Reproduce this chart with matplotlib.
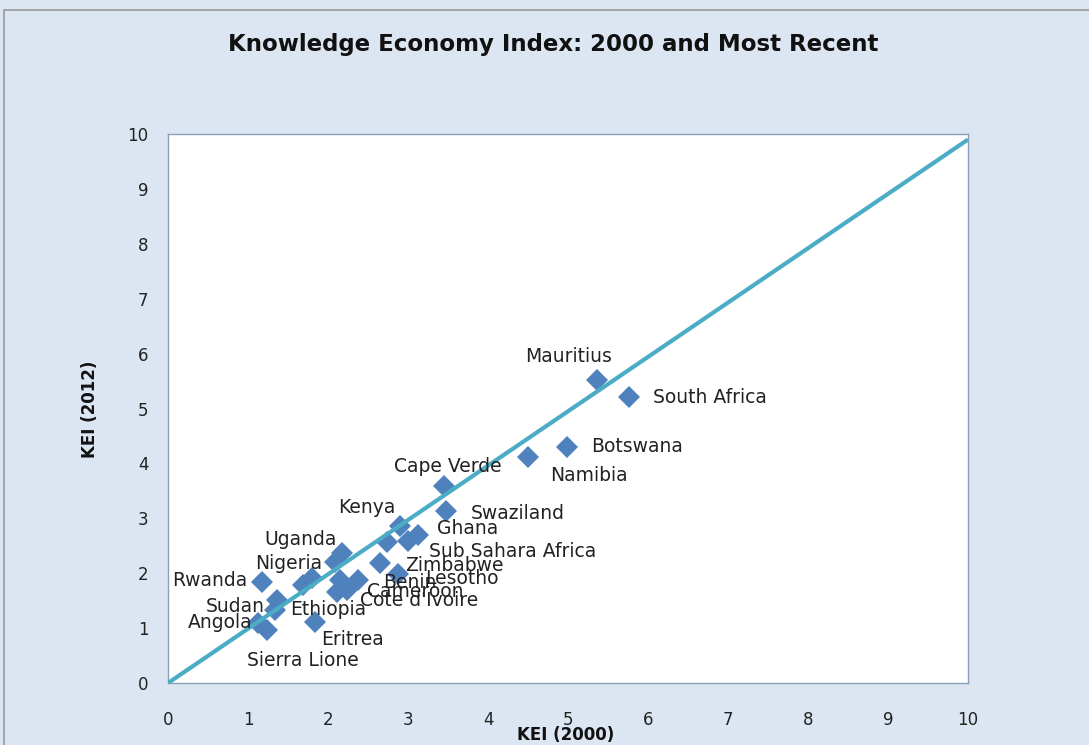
import numpy as np
import matplotlib.pyplot as plt

# KEI scores
countries = ['Mauritius', 'South Africa', 'Botswana', 'Namibia', 'Cape Verde',
             'Swaziland', 'Kenya', 'Ghana', 'Sub Sahara Africa', '', 'Zimbabwe',
             'Lesotho', 'Benin', 'Cameroon', "Cote d'Ivoire", 'Uganda', '',
             'Nigeria', '', '', 'Rwanda', 'Sudan', 'Ethiopia', 'Eritrea',
             'Angola', 'Sierra Lione']
kei_2000 = [5.36, 5.76, 4.99, 4.50, 3.45, 3.48, 2.90, 3.12, 3.00, 2.74, 2.65,
            2.88, 2.38, 2.24, 2.11, 2.17, 2.09, 1.80, 1.69, 2.15, 1.17, 1.36,
            1.34, 1.84, 1.13, 1.24]
kei_2012 = [5.52, 5.21, 4.30, 4.12, 3.59, 3.13, 2.86, 2.70, 2.58, 2.57, 2.19,
            1.98, 1.88, 1.70, 1.66, 2.37, 2.20, 1.91, 1.78, 1.88, 1.84, 1.51,
            1.33, 1.11, 1.10, 0.97]
diag_x = [0, 10]
diag_y = [0, 9.9]

# label placement (pixel offsets, alignment)
offsets = {
    'Mauritius': (-28, 23, 'center'), 'South Africa': (24, -1, 'left'),
    'Botswana': (24, 0, 'left'), 'Namibia': (61, -19, 'center'),
    'Cape Verde': (4, 19, 'center'), 'Swaziland': (24, -2, 'left'),
    'Kenya': (-33, 19, 'center'), 'Ghana': (19, 6, 'left'),
    'Sub Sahara Africa': (21, -10, 'left'), 'Zimbabwe': (25, -3, 'left'),
    'Lesotho': (27, -4, 'left'), 'Benin': (25, -3, 'left'),
    'Cameroon': (20, -2, 'left'), "Cote d'Ivoire": (23, -9, 'left'),
    'Uganda': (-41, 13, 'center'), 'Nigeria': (-23, 15, 'center'),
    'Rwanda': (-14, 2, 'right'), 'Sudan': (-12, -6, 'right'),
    'Ethiopia': (15, 1, 'left'), 'Eritrea': (37, -17, 'center'),
    'Angola': (-6, 0, 'right'), 'Sierra Lione': (36, -31, 'center'),
}

bg = '#dce6f2'
fig = plt.figure(figsize=(10.89, 7.45), dpi=100, facecolor=bg)
fig.patches.append(plt.Rectangle((0.004, -0.01), 1.0, 0.997, transform=fig.transFigure,
                                 fill=False, edgecolor='#9a9a9a', linewidth=1.2))
ax = fig.add_axes([0.1543, 0.0832, 0.7346, 0.7369])
ax.set_facecolor('white')

ax.plot(diag_x, diag_y, color='#4bacc6', linewidth=3, solid_capstyle='butt', zorder=3)
ax.plot(kei_2000, kei_2012, linestyle='none', marker='D', markersize=11.5,
        color='#4f81bd', markeredgewidth=0, zorder=2)

for name, x, y in zip(countries, kei_2000, kei_2012):
    if not name:
        continue
    dx, dy, ha = offsets[name]
    ax.annotate(name, (x, y), xytext=(dx, dy), textcoords='offset pixels',
                ha=ha, va='center', fontsize=13.5, color='#222222', zorder=4)

ax.set_xlim(0, 10)
ax.set_ylim(0, 10)
ax.set_xticks(range(0, 11))
ax.set_yticks(range(0, 11))
ax.tick_params(length=0, labelsize=12, colors='#222222', pad=14)
ax.tick_params(axis='x', pad=20)
for s in ax.spines.values():
    s.set_color('#8aa0b8')
    s.set_linewidth(1)

fig.text(0.508, 0.94, 'Knowledge Economy Index: 2000 and Most Recent',
         ha='center', va='center', fontsize=16.5, fontweight='bold', color='#111111')
fig.text(0.519, 0.013, 'KEI (2000)', ha='center', va='center', fontsize=12,
         fontweight='bold', color='#111111')
fig.text(0.083, 0.45, 'KEI (2012)', ha='center', va='center', fontsize=12,
         fontweight='bold', rotation=90, color='#111111')

plt.savefig('out.png', dpi=100, facecolor=bg)
plt.close()
